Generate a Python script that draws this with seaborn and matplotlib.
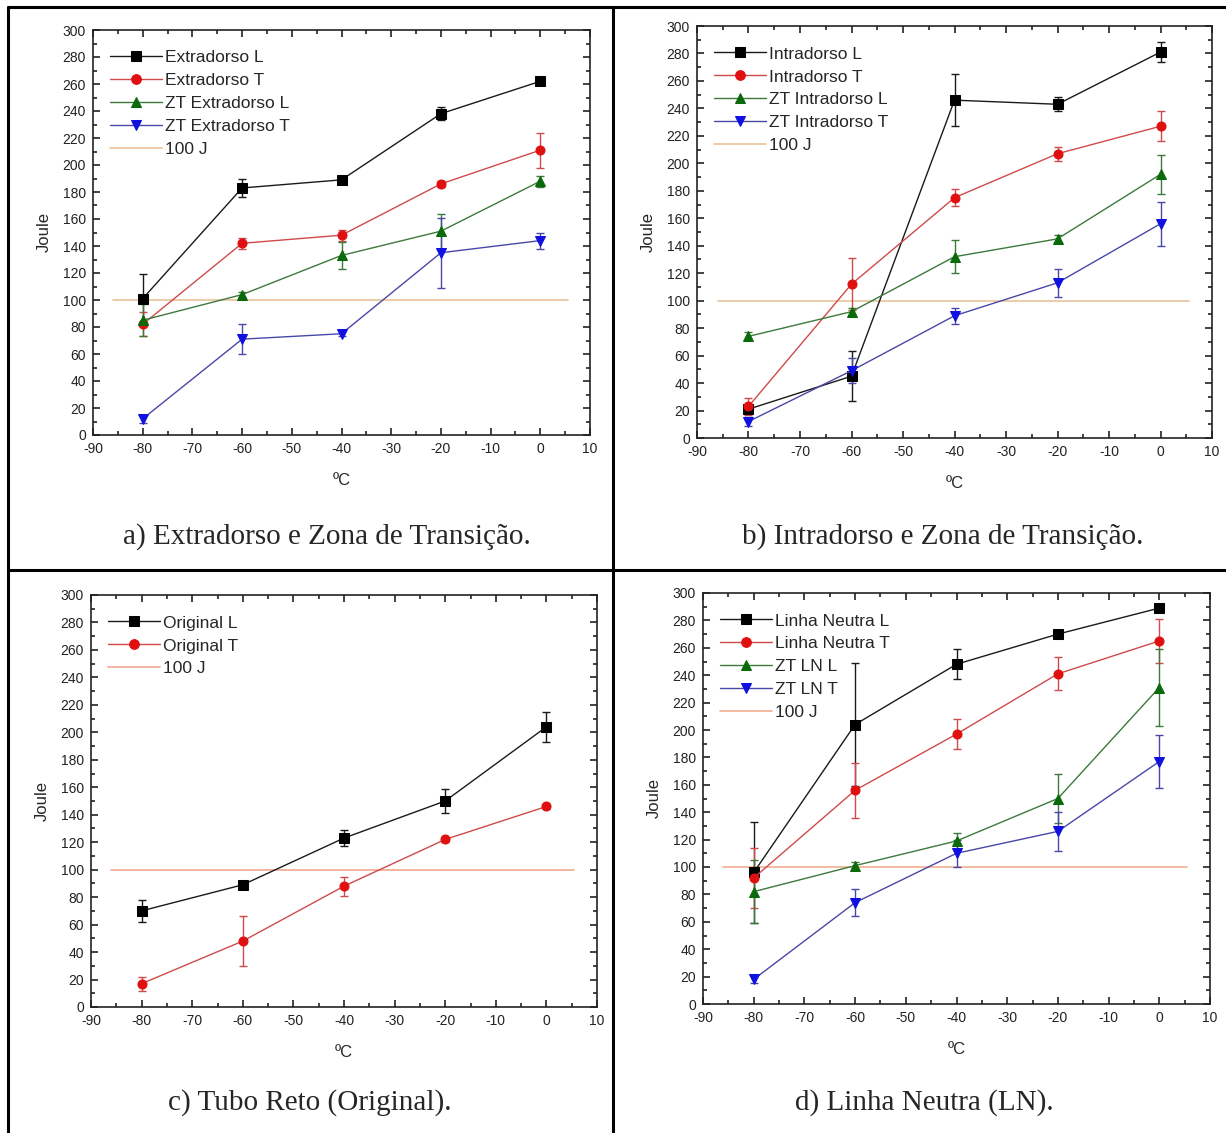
import matplotlib
matplotlib.use("Agg")
import matplotlib.pyplot as plt
from matplotlib.lines import Line2D
from matplotlib.ticker import MultipleLocator
import seaborn as sns
import pandas as pd

temps = [-80, -60, -40, -20, 0]

# Panel a
a_labels = ["Extradorso L", "Extradorso T", "ZT Extradorso L", "ZT Extradorso T"]
a_ext_L = [101, 183, 189, 238, 262]
a_ext_L_err = [18, 7, 2, 5, 2]
a_ext_T = [82, 142, 148, 186, 211]
a_ext_T_err = [9, 4, 4, 2, 13]
a_zt_L = [85, 104, 133, 151, 188]
a_zt_L_err = [12, 2, 10, 13, 4]
a_zt_T = [12, 71, 75, 135, 144]
a_zt_T_err = [3, 11, 2, 26, 6]

# Panel b
b_labels = ["Intradorso L", "Intradorso T", "ZT Intradorso L", "ZT Intradorso T"]
b_int_L = [21, 45, 246, 243, 281]
b_int_L_err = [3, 18, 19, 5, 7]
b_int_T = [23, 112, 175, 207, 227]
b_int_T_err = [6, 19, 6, 5, 11]
b_zt_L = [74, 92, 132, 145, 192]
b_zt_L_err = [3, 3, 12, 3, 14]
b_zt_T = [12, 49, 89, 113, 156]
b_zt_T_err = [3, 9, 6, 10, 16]

# Panel c
c_labels = ["Original L", "Original T"]
c_orig_L = [70, 89, 123, 150, 204]
c_orig_L_err = [8, 2, 6, 9, 11]
c_orig_T = [17, 48, 88, 122, 146]
c_orig_T_err = [5, 18, 7, 2, 2]

# Panel d
d_labels = ["Linha Neutra L", "Linha Neutra T", "ZT LN L", "ZT LN T"]
d_ln_L = [96, 204, 248, 270, 289]
d_ln_L_err = [37, 45, 11, 2, 2]
d_ln_T = [92, 156, 197, 241, 265]
d_ln_T_err = [22, 20, 11, 12, 16]
d_zt_L = [82, 101, 119, 150, 231]
d_zt_L_err = [23, 3, 6, 18, 28]
d_zt_T = [18, 74, 110, 126, 177]
d_zt_T_err = [3, 10, 10, 14, 19]

ref_label = "100 J"
ref_value = 100
ref_span = [-86, 5.5]

captions = ["a) Extradorso e Zona de Transição.",
            "b) Intradorso e Zona de Transição.",
            "c) Tubo Reto (Original).",
            "d) Linha Neutra (LN)."]

sns.set_style("ticks")
plt.rcParams['font.family'] = ['Liberation Sans', 'DejaVu Sans']
plt.rcParams['axes.unicode_minus'] = False

W, H = 1226, 1133
fig = plt.figure(figsize=(W / 100, H / 100), dpi=100)

styles = [
    dict(marker="s", line="#1a1a1a", face="black"),
    dict(marker="o", line="#d04a4a", face="#e01010"),
    dict(marker="^", line="#3c7a3c", face="#0a6a0a"),
    dict(marker="v", line="#4848a8", face="#1010e0"),
]

def px_axes(l, r, t, b):
    return fig.add_axes([l / W, 1 - b / H, (r - l) / W, (b - t) / H])

def panel(ax, labels, series, errs, refcolor):
    for i, (lab, ys, es) in enumerate(zip(labels, series, errs)):
        st = styles[i]
        df = pd.DataFrame({"T": temps, "J": ys})
        sns.lineplot(data=df, x="T", y="J", ax=ax, color=st["line"], lw=1.0,
                     marker=st["marker"], markersize=6.5, markerfacecolor=st["face"],
                     markeredgecolor=st["face"], label=lab, zorder=3)
        ax.errorbar(temps, ys, yerr=es, fmt="none", ecolor=st["line"],
                    elinewidth=1.0, capsize=3, capthick=1.0, zorder=2)
    dfr = pd.DataFrame({"T": ref_span, "J": [ref_value, ref_value]})
    sns.lineplot(data=dfr, x="T", y="J", ax=ax, color=refcolor, lw=1.2,
                 label=ref_label, zorder=1)
    ax.set_xlim(-90, 10)
    ax.set_ylim(0, 300)
    ax.xaxis.set_major_locator(MultipleLocator(10))
    ax.xaxis.set_minor_locator(MultipleLocator(5))
    ax.yaxis.set_major_locator(MultipleLocator(20))
    ax.yaxis.set_minor_locator(MultipleLocator(10))
    ax.tick_params(which="both", direction="in", top=True, right=True,
                   labelsize=10, width=1.2, colors="#222222", labelcolor="#222222")
    ax.tick_params(which="major", length=5, pad=5)
    ax.tick_params(which="minor", length=3)
    for s in ax.spines.values():
        s.set_linewidth(1.2)
        s.set_color("#222222")
    ax.set_xlabel("ºC", fontsize=12, labelpad=12)
    ax.set_ylabel("Joule", fontsize=12, labelpad=8)
    leg = ax.legend(loc="upper left", frameon=False, fontsize=12.5, handlelength=3.0,
                    handletextpad=0.15, labelspacing=0.45, borderaxespad=0.3,
                    bbox_to_anchor=(0.01, 0.98))
    for h in leg.legend_handles:
        if hasattr(h, "set_markersize"):
            h.set_markersize(7)

axa = px_axes(93, 590, 30, 435)
panel(axa, a_labels, [a_ext_L, a_ext_T, a_zt_L, a_zt_T],
      [a_ext_L_err, a_ext_T_err, a_zt_L_err, a_zt_T_err], "#e8c49c")
axb = px_axes(697, 1212, 26, 438)
panel(axb, b_labels, [b_int_L, b_int_T, b_zt_L, b_zt_T],
      [b_int_L_err, b_int_T_err, b_zt_L_err, b_zt_T_err], "#e8c49c")
axc = px_axes(91, 597, 595, 1007)
panel(axc, c_labels, [c_orig_L, c_orig_T], [c_orig_L_err, c_orig_T_err], "#f0a890")
axd = px_axes(703, 1210, 593, 1004)
panel(axd, d_labels, [d_ln_L, d_ln_T, d_zt_L, d_zt_T],
      [d_ln_L_err, d_ln_T_err, d_zt_L_err, d_zt_T_err], "#f0b090")

# captions
cap_pos = [(327, 537), (943, 537), (310, 1103), (924, 1103)]
for txt, (cx, cy) in zip(captions, cap_pos):
    fig.text(cx / W, 1 - cy / H, txt, ha="center", va="center",
             fontsize=21, family=["Liberation Serif", "DejaVu Serif"])

# table borders
def fline(x0, y0, x1, y1):
    fig.add_artist(Line2D([x0 / W, x1 / W], [1 - y0 / H, 1 - y1 / H],
                          color="black", lw=2.2, transform=fig.transFigure))

fline(8, 7, W, 7)
fline(8, 7, 8, H)
fline(613, 7, 613, H)
fline(8, 570, W, 570)

fig.savefig("out.png", dpi=100, facecolor="white")
